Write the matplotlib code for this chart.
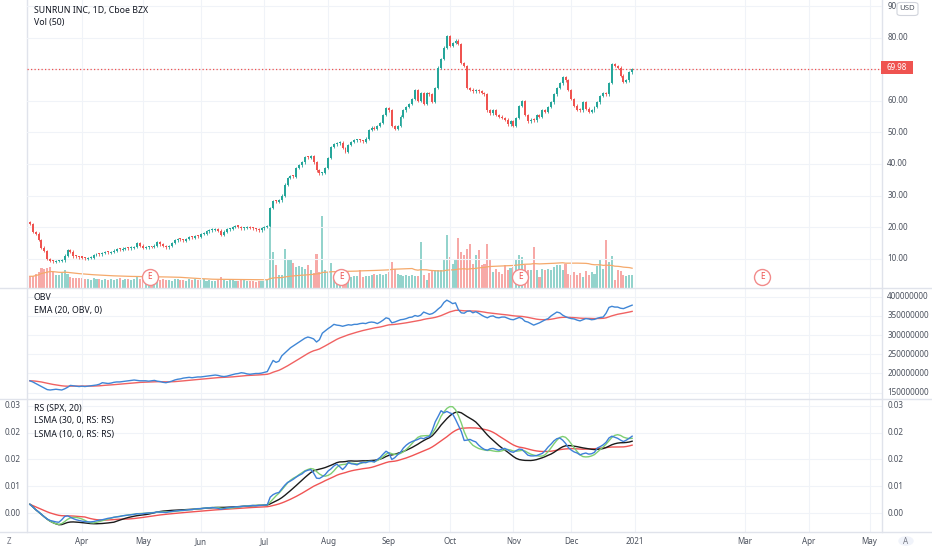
import numpy as np
import pandas as pd
import matplotlib
matplotlib.use("Agg")
import matplotlib.pyplot as plt
from matplotlib.patches import Rectangle, FancyBboxPatch
from matplotlib.lines import Line2D
import matplotlib.transforms as mtransforms

plt.rcParams['font.family'] = ['Noto Sans', 'DejaVu Sans']

W, H = 932, 550

# ---- data (daily, 2020-03-06 .. 2020-12-31) ----
close = [
    # Mar
    21.0, 18.5, 18.0, 16.0, 13.5, 12.5, 10.0, 9.3, 9.0, 9.3, 9.3, 9.5, 11.0, 12.8, 12.3, 10.8, 10.6, 10.4,
    # Apr
    10.2, 10.0, 10.3, 10.4, 11.2, 11.5, 11.4, 11.9, 12.0, 11.8, 12.1, 12.6, 13.0, 12.8, 13.2, 13.4, 13.3, 13.5, 13.8, 15.0, 14.2,
    # May
    13.4, 13.6, 13.8, 13.7, 14.2, 15.3, 14.6, 14.0, 13.6, 14.0, 15.0, 15.8, 16.2, 16.0, 15.7, 16.3, 16.8, 16.6, 17.2, 17.0,
    # Jun
    17.8, 18.0, 18.7, 19.0, 19.2, 19.3, 18.9, 17.5, 18.6, 19.3, 19.4, 20.0, 20.2, 20.0, 19.6, 19.8, 20.1, 19.7, 19.5, 19.2, 19.0, 19.6,
    # Jul
    20.0, 20.4, 26.0, 28.3, 28.0, 28.5, 30.0, 33.5, 35.5, 36.2, 36.0, 38.7, 39.6, 40.5, 42.2, 42.0, 42.5, 40.5, 38.0, 37.0, 37.2, 38.7,
    # Aug
    41.9, 45.4, 46.2, 46.5, 46.8, 45.0, 43.8, 46.0, 47.0, 47.5, 47.6, 47.3, 47.0, 48.0, 50.7, 51.5, 51.0, 52.0, 53.0, 55.5, 57.7,
    # Sep
    57.0, 52.0, 51.0, 52.0, 55.0, 57.0, 58.0, 59.0, 60.5, 63.4, 60.0, 62.5, 59.0, 62.5, 62.0, 59.6, 64.0, 70.5, 73.2, 76.8, 80.5,
    # Oct
    77.5, 78.3, 79.0, 78.0, 72.0, 71.0, 64.0, 63.5, 63.0, 63.2, 63.0, 62.5, 62.0, 57.0, 56.0, 57.0, 55.5, 55.0, 54.5, 54.0, 52.5, 53.5,
    # Nov
    52.0, 54.5, 58.3, 60.0, 55.5, 53.5, 54.0, 53.8, 55.5, 55.0, 57.0, 56.5, 58.0, 59.5, 62.0, 64.0, 65.5, 67.5, 66.5, 63.4,
    # Dec
    60.5, 58.5, 57.2, 57.0, 59.5, 57.5, 56.5, 57.0, 58.0, 59.5, 61.5, 62.5, 62.0, 65.7, 71.6, 71.0, 70.5, 68.0, 66.0, 66.5, 69.0, 69.98,
]
first_open = 21.6

volume = [  # millions
    4.8, 4.8, 5.6, 6.4, 8.0, 7.6, 8.0, 8.4, 6.4, 5.2, 5.2, 6.0, 7.2, 5.6, 4.4, 4.0, 4.0, 4.0,
    4.0, 3.6, 3.8, 3.4, 4.2, 3.8, 3.6, 3.4, 3.8, 3.2, 3.6, 3.4, 3.6, 4.0, 3.4, 3.8, 3.6, 3.4, 3.8, 4.4, 3.6,
    3.4, 3.8, 4.6, 4.2, 3.6, 4.8, 3.4, 3.6, 3.2, 3.4, 3.0, 3.6, 3.8, 3.4, 3.2, 3.0, 3.6, 3.4, 3.8, 3.2,
    3.2, 3.6, 3.0, 3.4, 3.0, 2.8, 3.2, 4.4, 3.4, 3.0, 3.2, 3.6, 2.8, 3.0, 3.2, 3.4, 2.8, 3.0, 3.0, 2.6, 2.8, 3.0,
    3.0, 3.4, 28.3, 14.5, 9.2, 5.2, 5.2, 15.9, 11.9, 11.5, 10.1, 8.5, 8.8, 8.5, 7.9, 9.2, 7.5, 6.1, 13.9, 6.5, 28.8, 7.2,
    6.5, 10.1, 4.5, 4.0, 4.2, 7.5, 4.2, 4.0, 4.5, 4.8, 5.0, 7.2, 4.5, 5.0, 4.8, 5.5, 5.8, 5.5, 5.6, 5.4, 5.6,
    6.5, 10.5, 7.9, 5.6, 5.2, 5.0, 5.2, 5.0, 5.4, 4.8, 5.0, 18.5, 5.2, 3.2, 6.1, 7.2, 7.2, 7.5, 7.2, 11.9, 21.2,
    12.5, 9.9, 11.2, 19.9, 14.5, 13.2, 15.9, 17.9, 9.9, 13.2, 15.2, 9.2, 9.9, 17.9, 11.2, 6.5, 7.9, 6.5, 5.9, 9.2, 7.5, 8.0,
    8.5, 11.9, 13.2, 12.5, 9.2, 7.2, 7.2, 16.5, 7.2, 4.5, 7.9, 7.2, 7.9, 7.2, 8.5, 9.2, 9.2, 7.2, 9.9, 5.9,
    5.2, 6.5, 5.2, 6.1, 4.5, 6.9, 5.2, 6.5, 5.9, 8.8, 11.5, 7.9, 19.2, 10.5, 12.8, 3.2, 7.2, 6.9, 5.2, 4.8, 5.2, 5.2,
]

obv = [  # millions
    181, 178, 174, 170, 166, 162, 158, 157, 158, 159, 158, 157, 160, 164, 169, 168, 167, 166,
    167, 166, 167, 168, 169, 170, 172, 176, 175, 174, 175, 177, 178, 178, 179, 180, 181, 182, 183, 182, 181,
    181, 181, 180, 181, 182, 180, 179, 177, 176, 178, 180, 183, 185, 186, 188, 189, 190, 189, 190, 191,
    191, 192, 193, 194, 195, 196, 195, 193, 192, 193, 195, 197, 199, 200, 202, 201, 199, 198, 199, 200, 200, 201,
    203, 205, 220, 234, 229, 232, 246, 253, 260, 267, 272, 277, 282, 287, 292, 295, 293, 290, 282, 288, 305, 311,
    317, 322, 328, 326, 325, 323, 325, 327, 326, 328, 328, 330, 331, 330, 333, 334, 333, 330, 334, 339, 345,
    343, 332, 334, 337, 340, 341, 343, 346, 347, 351, 349, 352, 360, 357, 354, 356, 361, 368, 374, 385, 391,
    387, 382, 384, 366, 358, 357, 362, 363, 358, 361, 357, 352, 348, 345, 349, 350, 346, 345, 347, 347, 344, 341,
    340, 343, 346, 343, 336, 334, 330, 326, 329, 332, 336, 340, 343, 350, 355, 360, 358, 352, 348, 345,
    343, 342, 339, 337, 340, 343, 342, 340, 341, 344, 346, 347, 357, 372, 375, 373, 373, 370, 369, 372, 375, 378,
]

rs = [
    0.0025, 0.0018, 0.0010, 0.0004, -0.0003, -0.0010, -0.0016, -0.0020, -0.0022, -0.0024, -0.0025, -0.0018,
    -0.0009, -0.0007, -0.0011, -0.0015, -0.0018, -0.0020,
    -0.0022, -0.0023, -0.0024, -0.0024, -0.0023, -0.0021, -0.0019, -0.0018, -0.0016, -0.0014, -0.0013,
    -0.0011, -0.0010, -0.0009, -0.0007, -0.0006, -0.0005, -0.0004, -0.0003, -0.0001, -0.0002,
    -0.0001, 0.0000, 0.0001, 0.0001, 0.0002, 0.0004, 0.0003, 0.0003, 0.0002, 0.0004, 0.0005, 0.0006,
    0.0007, 0.0008, 0.0008, 0.0009, 0.0010, 0.0010, 0.0012, 0.0013,
    0.0013, 0.0014, 0.0015, 0.0015, 0.0016, 0.0015, 0.0014, 0.0011, 0.0013, 0.0015, 0.0016, 0.0017,
    0.0018, 0.0018, 0.0019, 0.0020, 0.0020, 0.0021, 0.0022, 0.0021, 0.0022, 0.0022,
    0.0023, 0.0024, 0.0045, 0.0052, 0.0056, 0.0058, 0.0068, 0.0078, 0.0086, 0.0090, 0.0095, 0.0101,
    0.0106, 0.0110, 0.0117, 0.0120, 0.0122, 0.0112, 0.0098, 0.0097, 0.0102, 0.0108,
    0.0118, 0.0124, 0.0132, 0.0137, 0.0130, 0.0122, 0.0130, 0.0142, 0.0138, 0.0137, 0.0135, 0.0140,
    0.0142, 0.0141, 0.0144, 0.0145, 0.0143, 0.0150, 0.0156, 0.0165, 0.0173,
    0.0168, 0.0150, 0.0155, 0.0163, 0.0170, 0.0182, 0.0190, 0.0196, 0.0200, 0.0203, 0.0206, 0.0210,
    0.0208, 0.0212, 0.0214, 0.0232, 0.0255, 0.0270, 0.0286, 0.0280, 0.0284,
    0.0280, 0.0277, 0.0262, 0.0245, 0.0228, 0.0203, 0.0204, 0.0206, 0.0202, 0.0199, 0.0190, 0.0183,
    0.0178, 0.0176, 0.0180, 0.0181, 0.0178, 0.0176, 0.0179, 0.0181, 0.0177, 0.0172,
    0.0170, 0.0175, 0.0179, 0.0178, 0.0170, 0.0162, 0.0160, 0.0160, 0.0161, 0.0164, 0.0167, 0.0175,
    0.0185, 0.0193, 0.0202, 0.0208, 0.0210, 0.0204, 0.0195, 0.0183,
    0.0176, 0.0171, 0.0168, 0.0163, 0.0166, 0.0168, 0.0165, 0.0166, 0.0170, 0.0182, 0.0186, 0.0191,
    0.0198, 0.0210, 0.0215, 0.0212, 0.0209, 0.0204, 0.0200, 0.0204, 0.0209, 0.0215,
]

month_labels = ['Apr', 'May', 'Jun', 'Jul', 'Aug', 'Sep', 'Oct', 'Nov', 'Dec', '2021', 'Mar', 'Apr', 'May']
month_pos = [0, 21, 41, 63, 85, 106, 127, 149, 169, 191, 229, 251, 272]   # trading-day index
earnings_pos = [23.5, 89.5, 151.3, 234.9]
price_ticks = [10, 20, 30, 40, 50, 60, 80, 90]   # 70 sits under the last-price tag
obv_ticks = [150, 200, 250, 300, 350, 400]
rs_ticks = [0.0, 0.0075, 0.015, 0.0225, 0.03]
rs_tick_labels = ['0.00', '0.01', '0.02', '0.02', '0.03']

# ---- derived ----
x = np.arange(-18, -18 + len(close))
c = np.array(close)
o = np.r_[first_open, c[:-1]]
up = c >= o
vol = np.array(volume)
vol_ma = pd.Series(vol).rolling(50, min_periods=1).mean()
obv_ema = pd.Series(obv, dtype=float).ewm(span=20, adjust=False).mean()
rs_ma = pd.Series(rs).rolling(20, min_periods=1).mean()


def lsma(vals, n):
    vals = np.asarray(vals)
    out = np.empty(len(vals))
    for t in range(len(vals)):
        w = vals[max(0, t - n + 1):t + 1]
        if len(w) < 3:
            out[t] = w[-1]
            continue
        k = np.arange(len(w))
        b, a = np.polyfit(k, w, 1)
        out[t] = a + b * k[-1]
    return out


ls30 = lsma(rs, 30)
ls10 = lsma(rs, 10)

# ---- figure ----
fig = plt.figure(figsize=(W / 100, H / 100), dpi=100)
fig.patch.set_facecolor('white')


def ax_at(x0, y0, x1, y1):
    return fig.add_axes([x0 / W, 1 - y1 / H, (x1 - x0) / W, (y1 - y0) / H])


XL, XR = 27, 882
xlim = (-19.0, 276.3)
grid_c = '#f0f3f8'
txt_c = '#4c525e'
line_c = '#e0e3eb'
lab_fs = 5.8

ax_p = ax_at(XL, 0, XR, 288.3)
ax_o = ax_at(XL, 288.3, XR, 399.3)
ax_r = ax_at(XL, 399.3, XR, 532.3)

for a in (ax_p, ax_o, ax_r):
    a.set_xlim(*xlim)
    a.set_xticks([])
    a.set_yticks([])
    for s in a.spines.values():
        s.set_visible(False)
    for mp in month_pos:
        a.axvline(mp, color=grid_c, lw=0.8, zorder=0)

# price panel
ax_p.set_ylim(0.66, 91.9)
for t in price_ticks + [70]:
    ax_p.axhline(t, color=grid_c, lw=0.8, zorder=0)
ax_v = ax_p.twinx()
ax_v.set_xlim(*xlim)
ax_v.set_ylim(0, 115.2)
ax_v.set_yticks([])
for s in ax_v.spines.values():
    s.set_visible(False)
ax_v.bar(x, vol, width=0.72, color=np.where(up, '#93d3cc', '#f7a9a7'), zorder=1)
ax_v.plot(x, vol_ma, color='#f5a96b', lw=0.9, zorder=2)

body = np.where(np.abs(c - o) < 0.35, 0.35, c - o)
ax_v.set_zorder(1)
ax_p.set_zorder(2)
ax_p.patch.set_visible(False)
ax_p.bar(x, body, bottom=o, width=0.68, color=np.where(up, '#26a69a', '#ef5350'), zorder=3)
ax_p.vlines(x, np.minimum(o, c) - 0.4, np.maximum(o, c) + 0.4, color=np.where(up, '#26a69a', '#ef5350'),
            lw=0.6, zorder=3)
ax_p.axhline(close[-1], color='#ef5350', lw=0.9, ls=(0, (1, 1.8)), zorder=2)

for e in earnings_pos:
    ax_p.plot(e, 4.24, 'o', ms=11.5, mfc='white', mec='#f28b8b', mew=1.0, zorder=5, clip_on=False)
    ax_p.text(e, 4.24, 'E', color='#ef5350', fontsize=6, ha='center', va='center', zorder=6)

# OBV panel
ax_o.set_ylim(132.8, 421.9)
for t in obv_ticks:
    ax_o.axhline(t, color=grid_c, lw=0.8, zorder=0)
ax_o.plot(x, obv_ema, color='#f06262', lw=1.0)
ax_o.plot(x, obv, color='#3f86d6', lw=1.0)

# RS panel
ax_r.set_ylim(-0.0053, 0.03178)
for t in rs_ticks:
    ax_r.axhline(t, color=grid_c, lw=0.8, zorder=0)
ax_r.plot(x, rs_ma, color='#f05454', lw=1.0)
ax_r.plot(x, ls30, color='#1b1b1b', lw=1.0)
ax_r.plot(x, ls10, color='#7fcf73', lw=1.0)
ax_r.plot(x, rs, color='#3d7fd9', lw=1.0)

# separators / borders
for yy in (288.3, 399.3, 532.3):
    fig.add_artist(Line2D([0, 1], [1 - yy / H] * 2, color=line_c, lw=1.0))
for xx in (XL, XR):
    fig.add_artist(Line2D([xx / W] * 2, [1 - 532.3 / H, 1], color=line_c, lw=1.0))


# right axis labels
def rlab(ax, vals, labels):
    tr = mtransforms.blended_transform_factory(ax.transAxes, ax.transData)
    for v, lb in zip(vals, labels):
        ax.text(1.006, v, lb, transform=tr, fontsize=lab_fs, color=txt_c, va='center', ha='left', clip_on=False)


rlab(ax_p, price_ticks, ['%.2f' % t for t in price_ticks])
rlab(ax_o, obv_ticks, ['%d' % (t * 1000000) for t in obv_ticks])
rlab(ax_r, rs_ticks, rs_tick_labels)
trl = mtransforms.blended_transform_factory(ax_r.transAxes, ax_r.transData)
for v, lb in zip(rs_ticks, rs_tick_labels):
    ax_r.text(-0.026, v, lb, transform=trl, fontsize=lab_fs, color=txt_c, va='center', ha='left', clip_on=False)

# last price tag and USD box (drawn above the panels)
fig.add_artist(Rectangle((881 / W, 1 - 73.5 / H), 32 / W, 12 / H, color='#ef5350', lw=0, zorder=10))
fig.text(897 / W, 1 - 67.5 / H, '%.2f' % close[-1], color='white', fontsize=lab_fs, ha='center', va='center',
         zorder=11)
fig.add_artist(FancyBboxPatch((897 / W, 1 - 15.5 / H), 21 / W, 13 / H, boxstyle='round,pad=0,rounding_size=0.004',
                              fc='white', ec='#d1d4dc', lw=0.8, zorder=10))
fig.text(907.5 / W, 1 - 9 / H, 'USD', color=txt_c, fontsize=5.6, ha='center', va='center', zorder=11)

# date axis
for mp, lb in zip(month_pos, month_labels):
    xp = XL + (mp - xlim[0]) / (xlim[1] - xlim[0]) * (XR - XL)
    fig.text(xp / W, 1 - 541.5 / H, lb, fontsize=lab_fs, color=txt_c, ha='center', va='center',
             fontweight='bold' if lb == '2021' else 'normal')
fig.text(9 / W, 1 - 541 / H, 'Z', fontsize=lab_fs, color='#787b86', ha='center', va='center')
fig.add_artist(plt.Circle((906 / W, 1 - 541 / H), 7 / W, color='#f0f3fa', transform=fig.transFigure))
fig.text(906 / W, 1 - 541 / H, 'A', fontsize=lab_fs, color='#787b86', ha='center', va='center')

# legends
leg_fs = 6.3
fig.text(34 / W, 1 - 10 / H, 'SUNRUN INC, 1D, Cboe BZX', fontsize=leg_fs, color='#131722', fontweight='bold', va='center')
fig.text(34 / W, 1 - 22 / H, 'Vol (50)', fontsize=leg_fs, color='#131722', va='center')
fig.text(34 / W, 1 - 298 / H, 'OBV', fontsize=leg_fs, color='#131722', va='center')
fig.text(34 / W, 1 - 311 / H, 'EMA (20, OBV, 0)', fontsize=leg_fs, color='#131722', va='center')
fig.text(34 / W, 1 - 408 / H, 'RS (SPX, 20)', fontsize=leg_fs, color='#131722', va='center')
fig.text(34 / W, 1 - 421 / H, 'LSMA (30, 0, RS: RS)', fontsize=leg_fs, color='#131722', va='center')
fig.text(34 / W, 1 - 434 / H, 'LSMA (10, 0, RS: RS)', fontsize=leg_fs, color='#131722', va='center')

fig.savefig('out.png', dpi=100)
